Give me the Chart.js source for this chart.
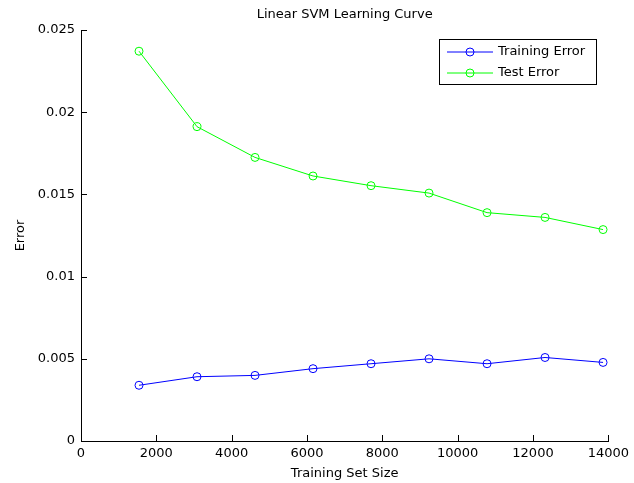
<!DOCTYPE html>
<html lang="en">
<head>
  <meta charset="UTF-8">
  <title>Linear SVM Learning Curve</title>
  <style>
    html, body {
      margin: 0;
      padding: 0;
      background: #fff;
    }
    #chart {
      display: block;
    }
  </style>
</head>
<body>
  <canvas id="chart" width="634" height="483"></canvas>

  <script src="https://cdn.jsdelivr.net/npm/chart.js"></script>
  <script>
    // values
    const trainingSizes = [1540, 3080, 4620, 6160, 7700, 9240, 10780, 12320, 13860];
    const trainingError = [0.00339, 0.00391, 0.00399, 0.00440, 0.00470, 0.00500, 0.00470, 0.00508, 0.00478];
    const testError = [0.02371, 0.01912, 0.01725, 0.01612, 0.01553, 0.01508, 0.01389, 0.01360, 0.01286];
    const xTickLabels = ['0', '2000', '4000', '6000', '8000', '10000', '12000', '14000'];
    const yTickLabels = ['0', '0.005', '0.01', '0.015', '0.02', '0.025'];
    const seriesNames = ['Training Error', 'Test Error'];

    const FONT = 'DejaVu Sans, Liberation Sans, Arial, sans-serif';
    const FONT_SIZE = 13;

    function toPoints(xs, ys) {
      return xs.map((x, i) => ({ x: x, y: ys[i] }));
    }

    // matlab style: inward ticks, title over the axes, boxed legend
    const matlabLook = {
      id: 'matlabLook',
      afterDraw(chart) {
        const ctx = chart.ctx;
        const area = chart.chartArea;
        const xs = chart.scales.x;
        const ys = chart.scales.y;
        ctx.save();
        ctx.strokeStyle = '#000';
        ctx.lineWidth = 1;
        ctx.beginPath();
        xs.ticks.forEach(t => {
          const px = Math.round(xs.getPixelForValue(t.value)) + 0.5;
          ctx.moveTo(px, area.bottom);
          ctx.lineTo(px, area.bottom - 6);
        });
        ys.ticks.forEach(t => {
          const py = Math.round(ys.getPixelForValue(t.value)) + 0.5;
          ctx.moveTo(area.left, py);
          ctx.lineTo(area.left + 6, py);
        });
        ctx.stroke();

        // title
        ctx.fillStyle = '#000';
        ctx.font = FONT_SIZE + 'px ' + FONT;
        ctx.textAlign = 'center';
        ctx.textBaseline = 'middle';
        ctx.fillText('Linear SVM Learning Curve', (area.left + area.right) / 2, 15);

        // legend
        const bx = 439.5, by = 39.5, bw = 157, bh = 45;
        ctx.fillStyle = '#fff';
        ctx.fillRect(bx, by, bw, bh);
        ctx.strokeStyle = '#000';
        ctx.strokeRect(bx, by, bw, bh);
        chart.data.datasets.forEach((ds, i) => {
          const ly = 52 + i * 21;
          ctx.strokeStyle = ds.borderColor;
          ctx.beginPath();
          ctx.moveTo(447, ly);
          ctx.lineTo(493, ly);
          ctx.stroke();
          ctx.beginPath();
          ctx.arc(470, ly, 4, 0, Math.PI * 2);
          ctx.stroke();
          ctx.fillStyle = '#000';
          ctx.textAlign = 'left';
          ctx.fillText(ds.label, 498, ly);
        });
        ctx.restore();
      }
    };

    new Chart(document.getElementById('chart'), {
      type: 'line',
      data: {
        datasets: [
          {
            label: seriesNames[0],
            data: toPoints(trainingSizes, trainingError),
            borderColor: '#0000ff',
            borderWidth: 1,
            pointRadius: 4,
            pointBorderWidth: 1,
            pointBackgroundColor: 'rgba(0,0,0,0)',
            pointBorderColor: '#0000ff',
            tension: 0
          },
          {
            label: seriesNames[1],
            data: toPoints(trainingSizes, testError),
            borderColor: '#00ff00',
            borderWidth: 1,
            pointRadius: 4,
            pointBorderWidth: 1,
            pointBackgroundColor: 'rgba(0,0,0,0)',
            pointBorderColor: '#00ff00',
            tension: 0
          }
        ]
      },
      options: {
        responsive: false,
        animation: false,
        devicePixelRatio: 1,
        layout: {
          padding: { top: 30, right: 22, left: 0, bottom: 0 }
        },
        plugins: {
          legend: { display: false },
          title: { display: false },
          tooltip: { enabled: false }
        },
        scales: {
          x: {
            type: 'linear',
            min: 0,
            max: 14000,
            afterFit(scale) { scale.height = 42; },
            grid: { display: true, drawOnChartArea: false, drawTicks: false },
            border: { display: true, color: '#000', width: 1 },
            ticks: {
              stepSize: 2000,
              autoSkip: false,
              maxRotation: 0,
              padding: 5,
              color: '#000',
              font: { family: FONT, size: FONT_SIZE },
              callback: (v, i) => xTickLabels[i]
            },
            title: {
              display: true,
              text: 'Training Set Size',
              color: '#000',
              padding: { top: 0, bottom: 2 },
              font: { family: FONT, size: FONT_SIZE }
            }
          },
          y: {
            min: 0,
            max: 0.025,
            afterFit(scale) { scale.width = 81; },
            grid: { display: true, drawOnChartArea: false, drawTicks: false },
            border: { display: true, color: '#000', width: 1 },
            ticks: {
              stepSize: 0.005,
              padding: 6,
              color: '#000',
              font: { family: FONT, size: FONT_SIZE },
              callback: (v, i) => yTickLabels[i]
            },
            title: {
              display: true,
              text: 'Error',
              color: '#000',
              padding: { top: 13, bottom: 0 },
              font: { family: FONT, size: FONT_SIZE }
            }
          }
        }
      },
      plugins: [matlabLook]
    });
  </script>
</body>
</html>
